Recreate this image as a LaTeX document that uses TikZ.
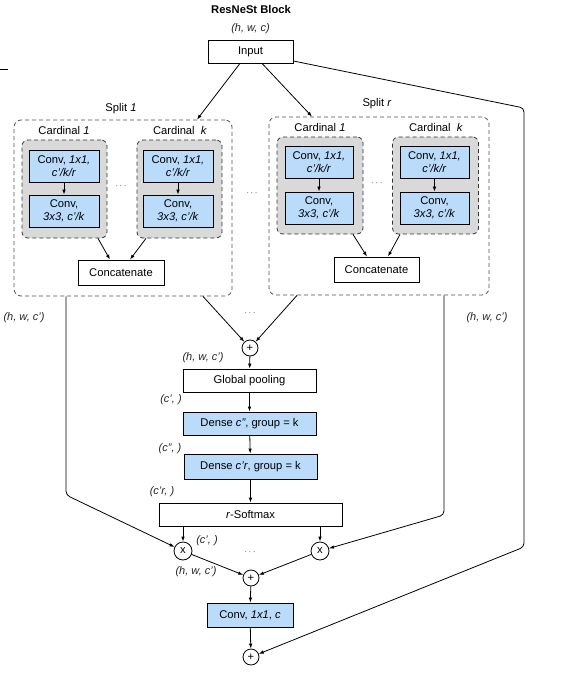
\documentclass[tikz,border=0pt]{standalone}
\usepackage{fontspec}
\setmainfont{Liberation Sans}
\usetikzlibrary{arrows.meta}
\definecolor{convblue}{RGB}{187,219,251}
\definecolor{cardgrey}{RGB}{217,217,217}
\definecolor{dashgrey}{RGB}{80,80,80}
\begin{document}
\begin{tikzpicture}[x=1pt,y=-1pt,
  font=\fontsize{11.2}{13}\selectfont,
  line width=0.8pt,
  arr/.style={-{Latex[length=5pt,width=3.6pt]}},
  box/.style={draw=black,fill=white,inner sep=0pt,align=center},
  convbox/.style={box,fill=convblue,minimum width=70pt,minimum height=32pt},
  splitbox/.style={draw=dashgrey,dashed,dash pattern=on 4pt off 3pt,rounded corners=7pt,minimum width=#1,inner sep=0pt},
  cardbox/.style={draw=black!80,fill=cardgrey,dash pattern=on 4pt off 3pt,rounded corners=6pt,inner sep=0pt},
  opcirc/.style={draw=black,fill=white,circle,inner sep=0pt,minimum size=#1},
  lbl/.style={font=\fontsize{11}{13}\selectfont\itshape,text=black!85,inner sep=0pt},
  txt/.style={inner sep=0pt},
  dots/.style={inner sep=0pt,font=\fontsize{9}{9}\selectfont}
]
\useasboundingbox (0,0) rectangle (584,676);
\draw[line width=1pt] (0,70) -- (8,70);

% title and input
\node[txt,font=\fontsize{11.2}{13}\selectfont\bfseries] (title) at (251,10) {ResNeSt Block};
\node[lbl] (lin) at (250.5,29) {(h, w, c)};
\node[box,minimum width=85pt,minimum height=23pt] (input) at (250.5,51.5) {Input};

% split 1
\node[splitbox=218pt,minimum height=176pt] (split1) at (123,208) {};
\node[txt] (s1lbl) at (121,109) {Split \textit{1}};
\node[txt] (s1c1lbl) at (64,130) {Cardinal \textit{1}};
\node[txt] (s1cklbl) at (180,130) {Cardinal~ \textit{k}};
\node[cardbox,minimum width=85pt,minimum height=98pt] (g11) at (64.5,189) {};
\node[cardbox,minimum width=85pt,minimum height=98pt] (g1k) at (179.5,189) {};
\node[convbox] (c11a) at (64,166) {Conv, \textit{1x1,}\\\textit{c'/k/r}};
\node[convbox] (c11b) at (64,211) {Conv,\\\textit{3x3, c'/k}};
\node[convbox] (c1ka) at (178,166) {Conv, \textit{1x1,}\\\textit{c'/k/r}};
\node[convbox] (c1kb) at (178,211) {Conv,\\\textit{3x3, c'/k}};
\node[dots] (d1) at (121,186) {$\cdots$};
\node[box,minimum width=86pt,minimum height=25pt] (cat1) at (121,272.5) {Concatenate};

% split r
\node[splitbox=220pt,minimum height=178pt] (splitr) at (379,206) {};
\node[txt] (srlbl) at (377,104) {Split \textit{r}};
\node[txt] (src1lbl) at (320,127) {Cardinal \textit{1}};
\node[txt] (srcklbl) at (436,127) {Cardinal~ \textit{k}};
\node[cardbox,minimum width=86pt,minimum height=97pt] (gr1) at (320,185.5) {};
\node[cardbox,minimum width=86pt,minimum height=97pt] (grk) at (435.5,185.5) {};
\node[convbox,minimum width=68pt] (cr1a) at (319,162) {Conv, \textit{1x1,}\\\textit{c'/k/r}};
\node[convbox,minimum width=68pt] (cr1b) at (319,208) {Conv,\\\textit{3x3, c'/k}};
\node[convbox,minimum width=69pt] (crka) at (434.5,162) {Conv, \textit{1x1,}\\\textit{c'/k/r}};
\node[convbox,minimum width=69pt] (crkb) at (434.5,208) {Conv,\\\textit{3x3, c'/k}};
\node[dots] (d2) at (377,183) {$\cdots$};
\node[box,minimum width=85pt,minimum height=25pt] (catr) at (376.5,269.5) {Concatenate};

\node[dots] (d3) at (252,193) {$\cdots$};
\node[dots] (d4) at (250,313) {$\cdots$};

% side labels
\node[lbl] (lleft) at (24,318) {(h, w, c')};
\node[lbl] (lright) at (487,318) {(h, w, c')};

% main column
\node[opcirc=16pt] (plust) at (250,348) {+};
\node[lbl] (l1) at (203,358) {(h, w, c')};
\node[box,minimum width=133pt,minimum height=23pt] (gpool) at (249.5,380.5) {Global pooling};
\node[lbl] (l2) at (171,400) {(c', )};
\node[box,fill=convblue,minimum width=133pt,minimum height=23pt] (dense1) at (249.5,423.5) {Dense \textit{c''}, group = k};
\node[lbl] (l3) at (170,449) {(c'', )};
\node[box,fill=convblue,minimum width=133pt,minimum height=25pt] (dense2) at (250.5,466.5) {Dense \textit{c'r}, group = k};
\node[lbl] (l4) at (162,492) {(c'r, )};
\node[box,minimum width=183pt,minimum height=23pt] (softmax) at (250.5,514.5) {\textit{r}-Softmax};
\node[opcirc=18pt] (xl) at (183,551) {x};
\node[opcirc=18pt] (xr) at (320,551) {x};
\node[lbl] (l5) at (207,541) {(c', )};
\node[dots] (d5) at (250,552) {$\cdots$};
\node[lbl] (l6) at (196,572) {(h, w, c')};
\node[opcirc=16pt] (plusm) at (251,578) {+};
\node[convbox,minimum width=86pt,minimum height=24pt] (convc) at (250,615) {Conv, \textit{1x1}, \textit{c}};
\node[opcirc=16pt] (plusb) at (251,657) {+};

% bends
\coordinate (bl) at (66,495);
\coordinate (br) at (444,515);
\coordinate (bt) at (524,108);
\coordinate (bb) at (524,547);

% connectors
\draw[arr] ([xshift=-10.5pt]input.south) -- ([xshift=74pt]split1.north);
\draw[arr] ([xshift=11.5pt]input.south) -- ([xshift=-67pt]splitr.north);
\draw[arr,rounded corners=4pt] ([yshift=-9.5pt]input.east) -- (bt) -- (bb) -- (plusb);

\draw[arr] (c11a) -- (c11b);
\draw[arr] (c1ka) -- (c1kb);
\draw[arr] (cr1a) -- (cr1b);
\draw[arr] (crka) -- (crkb);
\draw[arr] ([xshift=33.5pt]g11.south) -- ([xshift=-11pt]cat1.north);
\draw[arr] ([xshift=-33.5pt]g1k.south) -- ([xshift=9pt]cat1.north);
\draw[arr] ([xshift=33pt]gr1.south) -- ([xshift=-9.5pt]catr.north);
\draw[arr] ([xshift=-35.5pt]grk.south) -- ([xshift=11.5pt]catr.north);

\draw[arr] ([xshift=80pt]split1.south) -- (plust);
\draw[arr] ([xshift=-82pt]splitr.south) -- (plust);
\draw[arr,rounded corners=4pt] ([xshift=-57pt]split1.south) -- (bl) -- (xl);
\draw[arr,rounded corners=4pt] ([xshift=65pt]splitr.south) -- (br) -- (xr);

\draw[arr] (plust) -- (gpool);
\draw[arr] (gpool) -- (dense1);
\draw[arr] (dense1) -- (dense2);
\draw[arr] (dense2) -- (softmax);
\draw[arr] (softmax.south -| xl) -- (xl);
\draw[arr] (softmax.south -| xr) -- (xr);
\draw[arr] (xl) -- (plusm);
\draw[arr] (xr) -- (plusm);
\draw[arr] (plusm) -- (convc);
\draw[arr] (convc) -- (plusb);
\end{tikzpicture}
\end{document}
